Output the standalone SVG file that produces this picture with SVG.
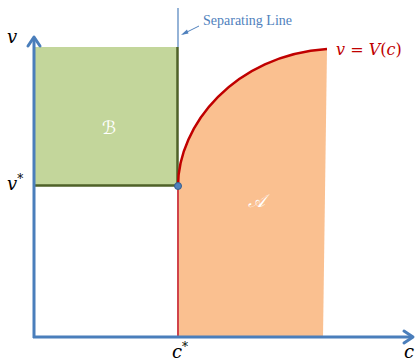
<svg xmlns="http://www.w3.org/2000/svg" width="417" height="364" viewBox="0 0 417 364">
<style>
.ax{stroke:#4a7ebb;stroke-width:3;fill:none}
.ah{stroke:#4a7ebb;stroke-width:3;fill:none;stroke-linecap:round;stroke-linejoin:round}
.m{font-family:"DejaVu Serif","Liberation Serif",serif;font-style:italic;font-size:18px;fill:#000}
.lab{font-family:"Liberation Serif",serif;font-size:14px;fill:#4f81bd}
.scr{font-family:"DejaVu Serif","DejaVu Sans",serif;font-size:18px;fill:#fff;font-style:italic}
</style>
<g id="regionA">
<path d="M178,186 C178,125 235,55 327,49 L323,337 L178,337 Z" fill="#fac090"/>
<text class="scr" x="256" y="207" text-anchor="middle">𝒜</text>
</g>
<g id="regionB">
<rect x="35" y="47" width="143" height="139" fill="#c3d69b"/>
<path d="M35,185.5 L178,185.5 M177.5,47 L177.5,186" stroke="#4f6228" stroke-width="2.5" fill="none"/>
<text class="scr" x="109" y="134" text-anchor="middle">ℬ</text>
</g>
<g id="connectors">
<path d="M178,8 L178,47" stroke="#4f81bd" stroke-width="1.2"/>
<path d="M178,186 L178,337" stroke="#d0444a" stroke-width="2"/>
<path d="M178,186 C178,125 235,55 327,49" stroke="#c00000" stroke-width="2.5" fill="none"/>
<path d="M199,26 L183,34" stroke="#4f81bd" stroke-width="1"/>
<path d="M181,35 L187,29.5 L188.5,33.5 Z" fill="#4f81bd"/>
<path class="ax" d="M34,338 L34,38"/>
<path class="ah" d="M28,46 L34,37 L40,46"/>
<path class="ax" d="M33,337 L413,337"/>
<path class="ah" d="M404,331 L413,337 L404,343"/>
</g>
<g id="point">
<circle cx="178" cy="186" r="3.5" fill="#4f81bd" stroke="#385d8a" stroke-width="1"/>
</g>
<g id="labels">
<text class="lab" x="203" y="25">Separating Line</text>
<text x="336" y="55" font-family="DejaVu Serif,serif" font-size="16" fill="#c00000"><tspan font-style="italic">v</tspan> = <tspan font-style="italic">V</tspan>(<tspan font-style="italic">c</tspan>)</text>
<text class="m" x="7" y="43">v</text>
<text class="m" x="7" y="190">v<tspan font-size="12" dy="-7" font-style="normal">*</tspan></text>
<text class="m" x="172" y="358">c<tspan font-size="12" dy="-7" font-style="normal">*</tspan></text>
<text class="m" x="404" y="358">c</text>
</g>
</svg>
